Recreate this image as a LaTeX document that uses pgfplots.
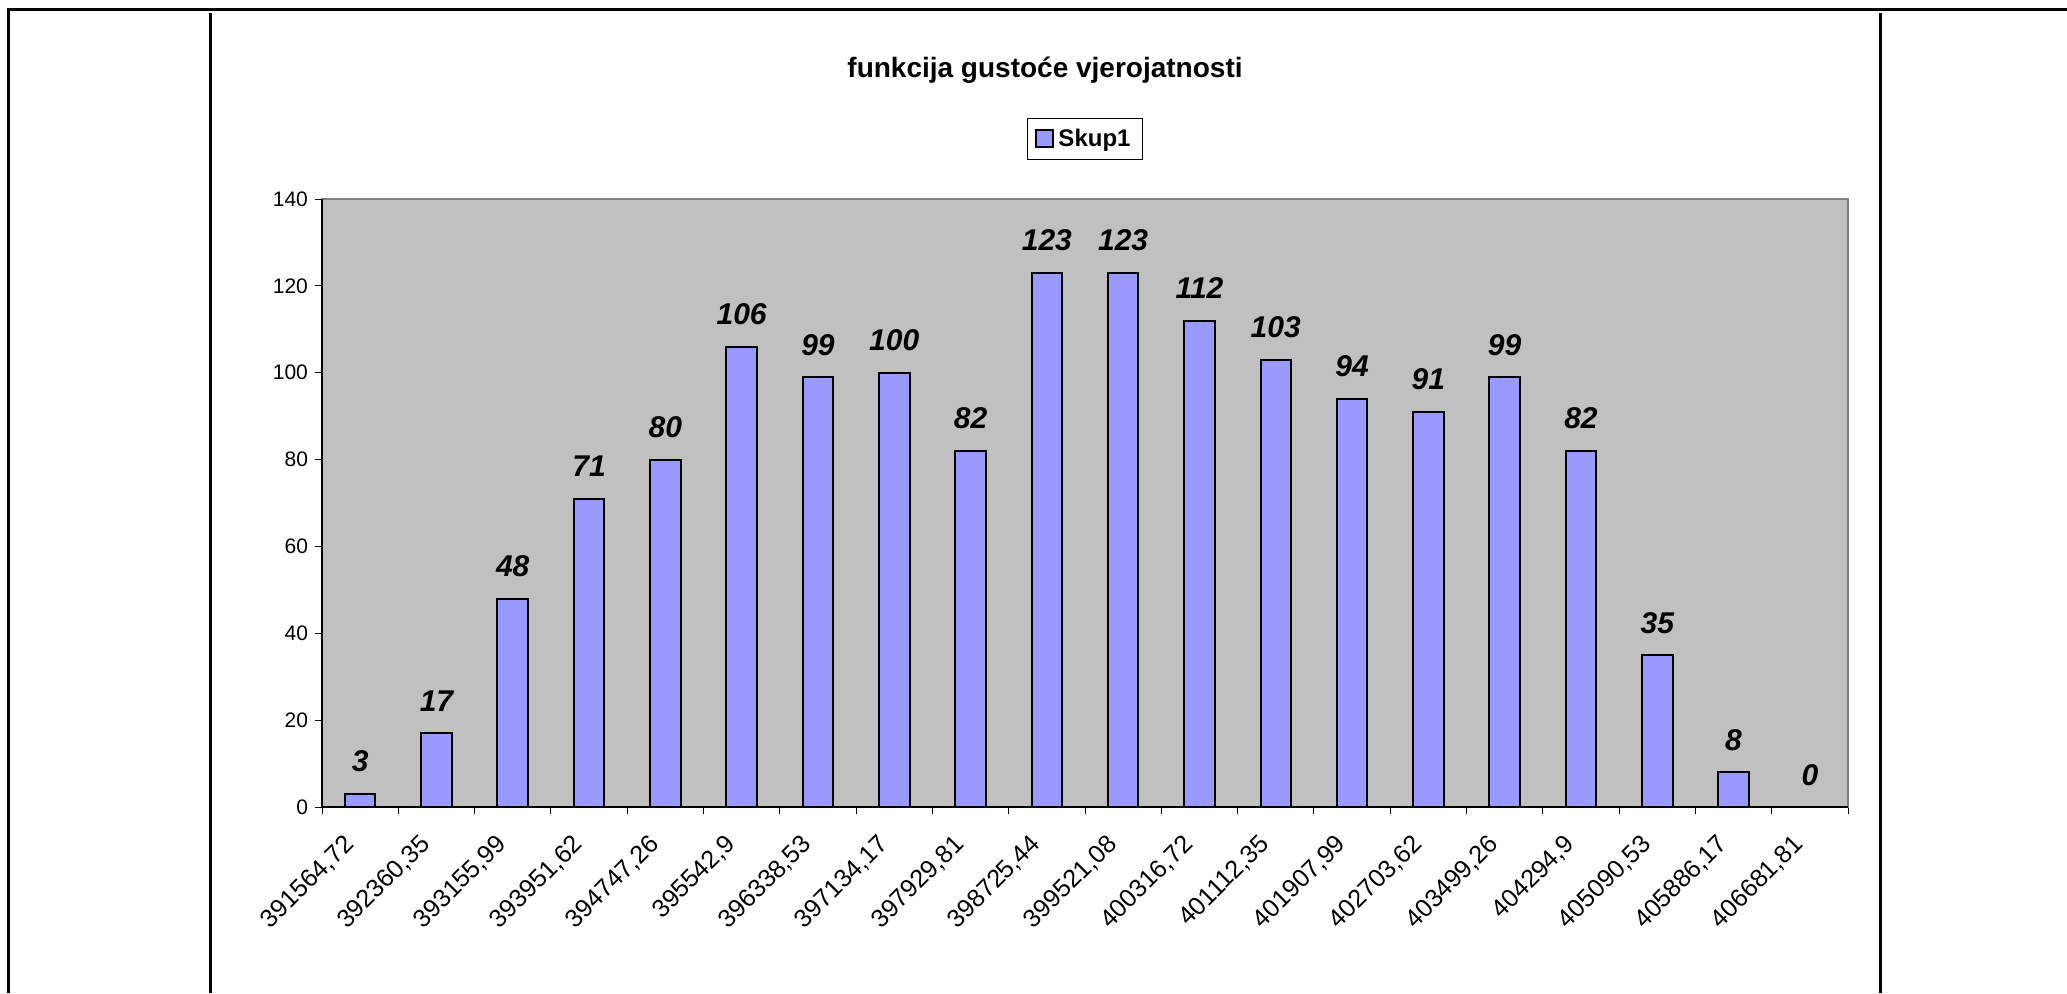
\documentclass[border=0pt]{standalone}
\usepackage{fontspec}
\setmainfont{Liberation Sans}
\usepackage{pgfplots}
\pgfplotsset{compat=1.18}
\definecolor{barblue}{HTML}{9999FF}
\definecolor{plotbg}{HTML}{C0C0C0}
\definecolor{bordergray}{HTML}{808080}
\begin{document}
\begin{tikzpicture}
\useasboundingbox (0,0) rectangle (1033.5pt,496.5pt);
\draw[line width=1.5pt] (4pt,0) -- (4pt,491.5pt) -- (1033.5pt,491.5pt);
\draw[line width=1.5pt] (105pt,0) -- (105pt,490pt);
\draw[line width=1.5pt] (940pt,0) -- (940pt,490pt);
\begin{axis}[
  at={(161pt,93pt)}, anchor=south west,
  scale only axis, width=763pt, height=304pt,
  xmin=-0.5, xmax=19.5, ymin=0, ymax=140,
  ytick={0,20,...,140},
  xtick={0,...,19},
  xticklabels={{391564,72},{392360,35},{393155,99},{393951,62},{394747,26},{395542,9},{396338,53},{397134,17},{397929,81},{398725,44},{399521,08},{400316,72},{401112,35},{401907,99},{402703,62},{403499,26},{404294,9},{405090,53},{405886,17},{406681,81}},
  minor xtick={-0.5,0.5,...,19.5},
  tick align=outside, xtick pos=left, ytick pos=left,
  major tick length=3.5pt, minor tick length=3.5pt,
  major x tick style={draw=none},
  tick style={black, line width=0.5pt},
  axis background/.style={fill=plotbg},
  axis line style={draw=bordergray, line width=1pt},
  /pgf/number format/assume math mode=true,
  yticklabel style={font=\fontsize{10.5}{12}\selectfont},
  xticklabel style={font=\fontsize{12.6}{15}\selectfont, inner sep=0pt, xshift=-5pt, yshift=-13pt, rotate=45, anchor=east},
  ybar, bar width=0.4,
  clip=false,
  nodes near coords,
  nodes near coords style={font=\fontsize{15}{18}\selectfont\bfseries\itshape, anchor=base, inner sep=0pt, yshift=11pt},
  title={funkcija gustoće vjerojatnosti},
  title style={at={(0.4738,1.1924)}, anchor=center, font=\fontsize{14}{17}\selectfont\bfseries},
  legend style={at={(0.5,1.0987)}, anchor=center, draw=black, line width=0.5pt, font=\fontsize{12}{14}\selectfont\bfseries, inner xsep=4pt, inner ysep=3pt},
  legend image code/.code={\draw[fill=barblue, draw=black, line width=1pt] (0pt,-4.25pt) rectangle (8.5pt,4.25pt);},
]
\addplot[fill=barblue, draw=black, line width=1pt] coordinates {
(0,3) (1,17) (2,48) (3,71) (4,80) (5,106) (6,99) (7,100) (8,82) (9,123)
(10,123) (11,112) (12,103) (13,94) (14,91) (15,99) (16,82) (17,35) (18,8) (19,0)
};
\addlegendentry{Skup1}
\draw[black, line width=1pt] (rel axis cs:0,1) -- (rel axis cs:0,0) -- (rel axis cs:1,0);
\end{axis}
\end{tikzpicture}
\end{document}
